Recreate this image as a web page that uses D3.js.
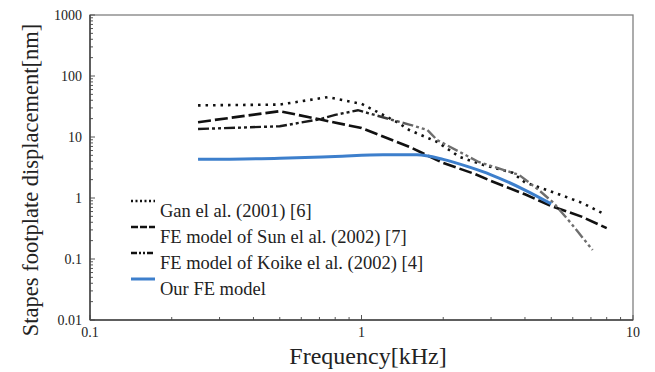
<!DOCTYPE html>
<html>
<head>
<meta charset="utf-8">
<script src="https://cdn.jsdelivr.net/npm/d3@7"></script>
<style>
  body { margin: 0; background: #fff; }
  svg text { font-family: "Liberation Serif", "Times New Roman", serif; fill: #222; }
</style>
</head>
<body>
<svg id="chart" width="655" height="372"></svg>
<script>
// frequency [kHz] and displacement [nm]
const ganFreq = [0.25, 0.5, 0.75, 1, 1.35, 1.5, 1.9, 2.3, 2.8, 3.6, 4, 5.2, 6.5, 7.8];
const ganDisp = [33, 34, 45, 35, 17.6, 13, 8.3, 4.7, 3.5, 2.6, 1.8, 1.2, 0.83, 0.55];

const sunFreq = [0.25, 0.5, 0.7, 1, 1.5, 2, 2.6, 3, 4, 5, 6.5, 8];
const sunDisp = [17.5, 26.5, 19.5, 14, 6.9, 3.75, 2.5, 1.9, 1.15, 0.74, 0.49, 0.32];

const koikeFreq = [0.25, 0.5, 0.7, 0.8, 0.97, 1.3, 1.5, 1.75, 1.9, 2.7, 3.8, 4.5, 5.1, 5.9, 7.1];
const koikeDisp = [13.5, 15, 19.5, 23, 27.5, 19, 16, 13, 8.9, 3.9, 2.4, 1.35, 0.83, 0.39, 0.14];

const ourFreq = [0.25, 0.5, 0.8, 1.2, 1.6, 2, 2.5, 3, 4, 5];
const ourDisp = [4.3, 4.5, 4.8, 5.1, 5.1, 4.3, 3.2, 2.4, 1.35, 0.8];

const legendLabels = [
  "Gan el al. (2001) [6]",
  "FE model of Sun el al. (2002) [7]",
  "FE model of Koike el al. (2002) [4]",
  "Our FE model"
];
const yTickValues = [0.01, 0.1, 1, 10, 100, 1000];
const xTickValues = [0.1, 1, 10];

const svg = d3.select("#chart");
const margin = { top: 15, right: 22, bottom: 52, left: 90 };
const width = 655 - margin.left - margin.right;
const height = 372 - margin.top - margin.bottom;

const x = d3.scaleLog().domain([0.1, 10]).range([margin.left, margin.left + width]);
const y = d3.scaleLog().domain([0.01, 1000]).range([margin.top + height, margin.top]);

// frame
svg.append("rect")
  .attr("x", margin.left).attr("y", margin.top)
  .attr("width", width).attr("height", height)
  .attr("fill", "none").attr("stroke", "#808080").attr("stroke-width", 1.3);

// minor + major ticks on left and bottom, pointing inward
const yMinor = [];
for (let e = -2; e < 3; e++) for (let k = 2; k <= 9; k++) yMinor.push(k * Math.pow(10, e));
const xMinor = [];
for (let e = -1; e < 1; e++) for (let k = 2; k <= 9; k++) xMinor.push(k * Math.pow(10, e));

const ticks = svg.append("g").attr("stroke", "#555").attr("stroke-width", 1);
ticks.selectAll(".ym").data(yMinor).join("line")
  .attr("x1", x(0.1)).attr("x2", x(0.1) + 3)
  .attr("y1", d => y(d)).attr("y2", d => y(d));
ticks.selectAll(".yM").data(yTickValues).join("line")
  .attr("x1", x(0.1)).attr("x2", x(0.1) + 5)
  .attr("y1", d => y(d)).attr("y2", d => y(d));
ticks.selectAll(".xm").data(xMinor).join("line")
  .attr("x1", d => x(d)).attr("x2", d => x(d))
  .attr("y1", y(0.01)).attr("y2", y(0.01) - 3);
ticks.selectAll(".xM").data(xTickValues).join("line")
  .attr("x1", d => x(d)).attr("x2", d => x(d))
  .attr("y1", y(0.01)).attr("y2", y(0.01) - 5);

// darker left/bottom axis lines
svg.append("line").attr("x1", x(0.1)).attr("x2", x(0.1))
  .attr("y1", y(1000)).attr("y2", y(0.01)).attr("stroke", "#444").attr("stroke-width", 1.5);
svg.append("line").attr("x1", x(0.1)).attr("x2", x(10))
  .attr("y1", y(0.01)).attr("y2", y(0.01)).attr("stroke", "#444").attr("stroke-width", 1.5);

// tick labels
svg.selectAll(".ylab").data(yTickValues).join("text")
  .attr("x", x(0.1) - 8).attr("y", d => y(d) + 5)
  .attr("text-anchor", "end").attr("font-size", 14)
  .text(d => d3.format("~g")(d));
svg.selectAll(".xlab").data(xTickValues).join("text")
  .attr("x", d => x(d)).attr("y", y(0.01) + 17)
  .attr("text-anchor", "middle").attr("font-size", 14)
  .text(d => d3.format("~g")(d));

// axis titles
svg.append("text").attr("x", 368).attr("y", 364)
  .attr("text-anchor", "middle").attr("font-size", 24)
  .text("Frequency[kHz]");
svg.append("text")
  .attr("transform", "translate(38,180) rotate(-90)")
  .attr("text-anchor", "middle").attr("font-size", 22.5)
  .text("Stapes footplate displacement[nm]");

// gradient for the Koike curve (fades to grey at high frequency)
const grad = svg.append("defs").append("linearGradient")
  .attr("id", "koikeGrad").attr("gradientUnits", "userSpaceOnUse")
  .attr("x1", x(1)).attr("x2", x(1.6)).attr("y1", 0).attr("y2", 0);
grad.append("stop").attr("offset", 0).attr("stop-color", "#1a1a1a");
grad.append("stop").attr("offset", 1).attr("stop-color", "#6e6e6e");

const line = d3.line().x(d => x(d[0])).y(d => y(d[1]));

const series = [
  { f: ganFreq, v: ganDisp, color: "#111", w: 2.6, dash: "2.5,5", curve: d3.curveLinear },
  { f: sunFreq, v: sunDisp, color: "#111", w: 2.6, dash: "13,4", curve: d3.curveLinear },
  { f: koikeFreq, v: koikeDisp, color: "url(#koikeGrad)", w: 2.4, dash: "11,3,3,3,3,3", curve: d3.curveLinear },
  { f: ourFreq, v: ourDisp, color: "#3d7fcc", w: 3, dash: null, curve: d3.curveMonotoneX }
];

series.forEach(s => {
  svg.append("path")
    .datum(d3.zip(s.f, s.v))
    .attr("d", line.curve(s.curve))
    .attr("fill", "none")
    .attr("stroke", s.color)
    .attr("stroke-width", s.w)
    .attr("stroke-dasharray", s.dash);
});

// legend
const legendColors = ["#111", "#111", "#111", "#3d7fcc"];
const legendDash = ["2,2.5", "7,2", "6,2,2,2,2,2", null];
const legend = svg.append("g");
series.forEach((s, i) => {
  const ly = 201 + i * 26;
  legend.append("line")
    .attr("x1", 131).attr("x2", 155).attr("y1", ly).attr("y2", ly)
    .attr("stroke", legendColors[i]).attr("stroke-width", s.w)
    .attr("stroke-dasharray", legendDash[i]);
  legend.append("text")
    .attr("x", 160).attr("y", ly + 16)
    .attr("font-size", 18.5)
    .text(legendLabels[i]);
});
</script>
</body>
</html>
